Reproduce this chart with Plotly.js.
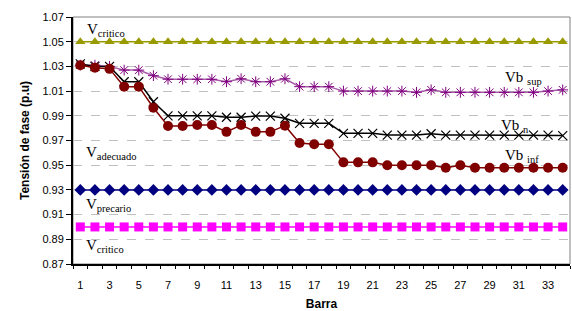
<!DOCTYPE html>
<html><head><meta charset="utf-8">
<script src="https://cdn.plot.ly/plotly-3.0.1.min.js"></script>
<style>html,body{margin:0;padding:0;background:#fff}#chart{width:572px;height:311px}</style>
</head><body><div id="chart"></div>
<script>
const barras = Array.from({length:34},(_,i)=>i+1);
const tickBarras = [1,3,5,7,9,11,13,15,17,19,21,23,25,27,29,31,33];
const vCriticoSup = [1.05,1.05,1.05,1.05,1.05,1.05,1.05,1.05,1.05,1.05,1.05,1.05,1.05,1.05,1.05,1.05,1.05,1.05,1.05,1.05,1.05,1.05,1.05,1.05,1.05,1.05,1.05,1.05,1.05,1.05,1.05,1.05,1.05,1.05];
const vPrecario = [0.93,0.93,0.93,0.93,0.93,0.93,0.93,0.93,0.93,0.93,0.93,0.93,0.93,0.93,0.93,0.93,0.93,0.93,0.93,0.93,0.93,0.93,0.93,0.93,0.93,0.93,0.93,0.93,0.93,0.93,0.93,0.93,0.93,0.93];
const vCriticoInf = [0.90,0.90,0.90,0.90,0.90,0.90,0.90,0.90,0.90,0.90,0.90,0.90,0.90,0.90,0.90,0.90,0.90,0.90,0.90,0.90,0.90,0.90,0.90,0.90,0.90,0.90,0.90,0.90,0.90,0.90,0.90,0.90,0.90,0.90];
const vbSup = [1.031,1.031,1.030,1.027,1.027,1.0225,1.0196,1.0196,1.0196,1.0196,1.0176,1.020,1.0176,1.0176,1.020,1.0136,1.0136,1.0136,1.010,1.010,1.010,1.010,1.010,1.009,1.011,1.009,1.009,1.009,1.009,1.009,1.009,1.009,1.010,1.011];
const vbN = [1.032,1.030,1.030,1.0176,1.0176,1.0014,0.990,0.990,0.990,0.990,0.9888,0.9888,0.9898,0.9898,0.988,0.9839,0.9839,0.9839,0.9758,0.9758,0.9758,0.9744,0.9744,0.9744,0.9755,0.9744,0.9744,0.9744,0.9744,0.9744,0.9744,0.9744,0.9744,0.974];
const vbInf = [1.031,1.029,1.028,1.0136,1.0136,0.9965,0.9817,0.9817,0.9825,0.9825,0.977,0.9825,0.977,0.977,0.982,0.968,0.967,0.967,0.9523,0.9523,0.9523,0.950,0.950,0.950,0.950,0.948,0.950,0.948,0.948,0.948,0.948,0.948,0.948,0.948];
const yTicks = [0.87,0.89,0.91,0.93,0.95,0.97,0.99,1.01,1.03,1.05,1.07];
const boundaries = Array.from({length:35},(_,i)=>i+0.5);

function tr(y, color, sym, size, lineColor, mline){
  return {x:barras, y:y, type:'scatter', mode:'lines+markers',
    line:{color:lineColor||color, width:1.5},
    marker:{symbol:sym, size:size, color:color, line:{color:color, width:mline||0}},
    hoverinfo:'skip'};
}
const data = [
  tr(vCriticoSup,'#999900','triangle-up',9),
  tr(vCriticoInf,'#FF00FF','square',9),
  tr(vPrecario,'#000080','diamond',9),
  tr(vbSup,'#800080','asterisk-open',9,'#A85CA8',1),
  tr(vbN,'#000000','x-thin-open',9,'#000000',1.2),
  tr(vbInf,'#800000','circle',10)
];
const serif = {family:'Liberation Serif, Times New Roman, serif', size:15, color:'#000'};
function ann(text,x,y){return {text:text, xref:'paper', yref:'y', x:x, y:y, xanchor:'left', yanchor:'middle', showarrow:false, font:serif};}
const layout = {
  width:572, height:311,
  margin:{l:73, r:2, t:17, b:47},
  paper_bgcolor:'#fff', plot_bgcolor:'#fff',
  showlegend:false,
  font:{family:'Liberation Sans, Arial, sans-serif', size:11, color:'#000'},
  xaxis:{range:[0.5,34.5], tickmode:'array', tickvals:tickBarras, ticktext:tickBarras.map(String),
    ticks:'', showgrid:false, zeroline:false, showline:true, linecolor:'#000', linewidth:2,
    tickfont:{size:11}, ticklabelstandoff:10,
    minor:{tickmode:'array', tickvals:boundaries, ticks:'outside', ticklen:3, tickcolor:'#000', tickwidth:1, showgrid:false},
    title:{text:'<b>Barra</b>', font:{size:12}, standoff:10}},
  yaxis:{range:[0.87,1.07], tickmode:'array', tickvals:yTicks, ticktext:yTicks.map(v=>v.toFixed(2)),
    ticks:'outside', ticklen:5, tickcolor:'#000', showline:true, linecolor:'#000', linewidth:2,
    showgrid:true, gridcolor:'#C0C0C0', griddash:'dash', gridwidth:1, zeroline:false,
    tickfont:{size:11},
    title:{text:'<b>Tensión de fase (p.u)</b>', font:{size:12}, standoff:10}},
  shapes:[{type:'rect', xref:'paper', yref:'paper', x0:0, x1:1, y0:0, y1:1, line:{color:'#808080', width:1}, layer:'below'}],
  annotations:[
    ann('V<sub>critico</sub>',0.024,1.0595),
    ann('V<sub>adecuado</sub>',0.022,0.960),
    ann('V<sub>precario</sub>',0.022,0.9178),
    ann('V<sub>critico</sub>',0.022,0.8846),
    ann('Vb <sub>sup</sub>',0.865,1.0206),
    ann('Vb <sub>n</sub>',0.857,0.9817),
    ann('Vb <sub>inf</sub>',0.865,0.9574)
  ]
};
Plotly.newPlot('chart', data, layout, {displayModeBar:false, staticPlot:true});
</script></body></html>
